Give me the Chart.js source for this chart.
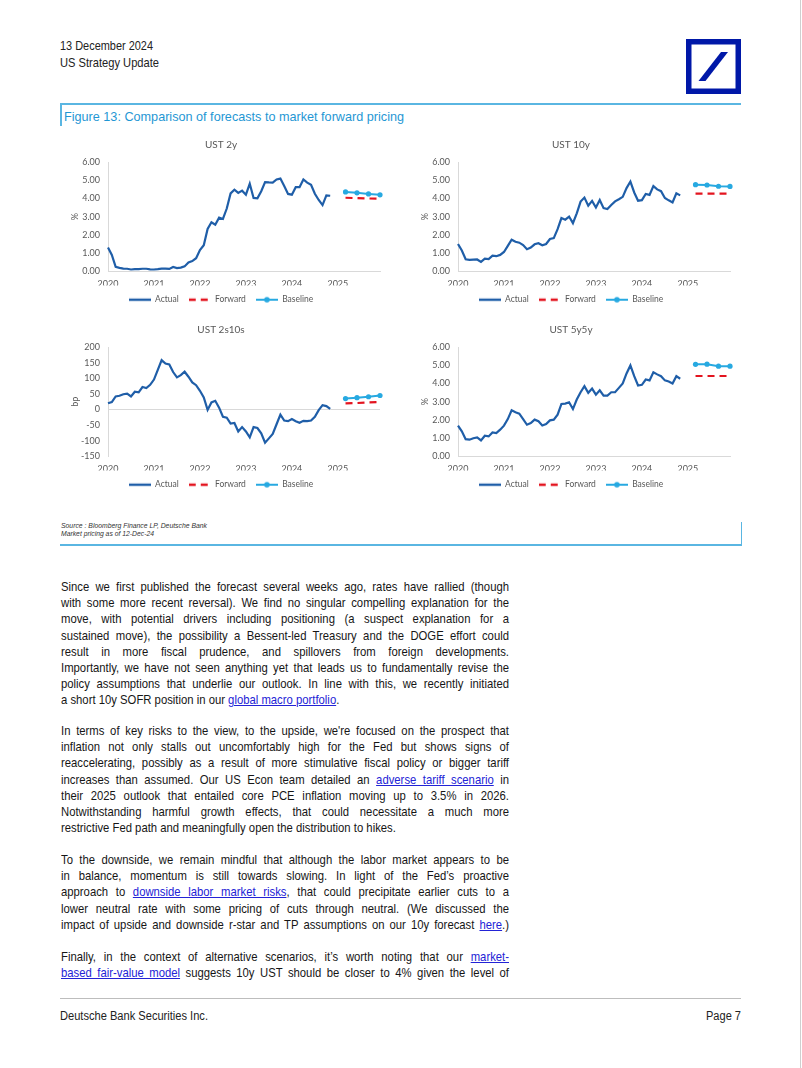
<!DOCTYPE html>
<html>
<head>
<meta charset="utf-8">
<script src="https://cdn.jsdelivr.net/npm/chart.js@4.4.1/dist/chart.umd.min.js"></script>
<style>
  body { margin: 0; background: #fff; }
  #page { position: relative; width: 802px; height: 1068px; overflow: hidden; background: #fff; }
  .abs { position: absolute; }
  .fit { display: inline-block; white-space: nowrap; font-family: 'Liberation Sans', Arial, sans-serif; transform-origin: 0 50%; }
  .hdr { left: 60px; font-size: 13px; color: #222; line-height: 16px; }
  .blue { background: #5ab6e2; }
  #figTitle { left: 64px; top: 109px; font-size: 13.5px; line-height: 16px; color: #1f97d4; }
  .src { left: 61px; font-size: 7.8px; line-height: 8px; color: #333; font-style: italic; }
  canvas { position: absolute; }
  .para { position: absolute; left: 61px; width: 527px; transform: scaleX(0.85); transform-origin: 0 0;
          font-family: 'Liberation Sans', Arial, sans-serif; font-size: 13.3px; color: #161616; }
  .ln { height: 16.2px; line-height: 16.2px; white-space: nowrap; }
  .para a { color: #2323d6; text-decoration: underline; }
  .foot { top: 1008px; font-size: 12.5px; color: #222; line-height: 16px; }
</style>
</head>
<body>
<div id="page">
  <div class="abs" style="left:800px;top:0;width:1px;height:1068px;background:#cfcfcf"></div>

  <div class="abs hdr fit" data-w="93" style="top:38px">13 December 2024</div>
  <div class="abs hdr fit" data-w="99" style="top:55px">US Strategy Update</div>

  <svg class="abs" style="left:686px;top:39px" width="55" height="55" viewBox="0 0 55 55">
    <rect x="0" y="0" width="55" height="55" fill="#0018a8"/>
    <rect x="5.5" y="5.5" width="44" height="44" fill="#fff"/>
    <polygon points="12.5,42 19.5,42 42,13 35,13" fill="#0018a8"/>
  </svg>

  <div class="abs blue" style="left:60px;top:103px;width:681px;height:1.5px"></div>
  <div class="abs blue" style="left:60px;top:103px;width:1.5px;height:23px"></div>
  <div id="figTitle" class="abs fit" data-w="340">Figure 13: Comparison of forecasts to market forward pricing</div>

  <canvas id="c2y" width="328" height="179" style="left:62px;top:135px"></canvas>
  <canvas id="c10y" width="328" height="179" style="left:412px;top:135px"></canvas>
  <canvas id="c2s10s" width="328" height="179" style="left:62px;top:320px"></canvas>
  <canvas id="c5y5y" width="328" height="179" style="left:412px;top:320px"></canvas>

  <div class="abs src fit" data-w="146" style="top:522px">Source : Bloomberg Finance LP, Deutsche Bank</div>
  <div class="abs src fit" data-w="93" style="top:530px">Market pricing as of 12-Dec-24</div>
  <div class="abs blue" style="left:60px;top:544px;width:682px;height:1.5px"></div>
  <div class="abs blue" style="left:740.5px;top:522px;width:1.5px;height:23px"></div>

  <div class="para" style="top:579px">
    <div class="ln">Since we first published the forecast several weeks ago, rates have rallied (though</div>
    <div class="ln">with some more recent reversal). We find no singular compelling explanation for the</div>
    <div class="ln">move, with potential drivers including positioning (a suspect explanation for a</div>
    <div class="ln">sustained move), the possibility a Bessent-led Treasury and the DOGE effort could</div>
    <div class="ln">result in more fiscal prudence, and spillovers from foreign developments.</div>
    <div class="ln">Importantly, we have not seen anything yet that leads us to fundamentally revise the</div>
    <div class="ln">policy assumptions that underlie our outlook. In line with this, we recently initiated</div>
    <div class="ln last">a short 10y SOFR position in our <a>global macro portfolio</a>.</div>
  </div>

  <div class="para" style="top:723px">
    <div class="ln">In terms of key risks to the view, to the upside, we're focused on the prospect that</div>
    <div class="ln">inflation not only stalls out uncomfortably high for the Fed but shows signs of</div>
    <div class="ln">reaccelerating, possibly as a result of more stimulative fiscal policy or bigger tariff</div>
    <div class="ln">increases than assumed. Our US Econ team detailed an <a>adverse tariff scenario</a> in</div>
    <div class="ln">their 2025 outlook that entailed core PCE inflation moving up to 3.5% in 2026.</div>
    <div class="ln">Notwithstanding harmful growth effects, that could necessitate a much more</div>
    <div class="ln last">restrictive Fed path and meaningfully open the distribution to hikes.</div>
  </div>

  <div class="para" style="top:852px">
    <div class="ln">To the downside, we remain mindful that although the labor market appears to be</div>
    <div class="ln">in balance, momentum is still towards slowing. In light of the Fed’s proactive</div>
    <div class="ln">approach to <a>downside labor market risks</a>, that could precipitate earlier cuts to a</div>
    <div class="ln">lower neutral rate with some pricing of cuts through neutral. (We discussed the</div>
    <div class="ln">impact of upside and downside r-star and TP assumptions on our 10y forecast <a>here</a>.)</div>
  </div>

  <div class="para" style="top:949px">
    <div class="ln">Finally, in the context of alternative scenarios, it’s worth noting that our <a>market-</a></div>
    <div class="ln"><a>based fair-value model</a> suggests 10y UST should be closer to 4% given the level of</div>
  </div>

  <div class="abs" style="left:60px;top:998px;width:681px;height:1px;background:#bdbdbd"></div>
  <div class="abs foot fit" data-w="148" style="left:60px">Deutsche Bank Securities Inc.</div>
  <div class="abs foot fit" data-w="35" data-right="741" style="left:706px">Page 7</div>
</div>

<script>
// monthly category axis, Jan 2020 .. Dec 2025
const years = ['2020', '2021', '2022', '2023', '2024', '2025'];
const monthNums = ['01','02','03','04','05','06','07','08','09','10','11','12'];
const months = [];
years.forEach(y => monthNums.forEach(m => months.push(y + '-' + m)));

// forecast points (quarter ends)
const forecastDates = ['2025-03', '2025-06', '2025-09', '2025-12'];

// actuals, month end, Jan 2020 .. Nov 2024
const ust2yActual = [
  1.31, 0.91, 0.25, 0.20, 0.16, 0.15, 0.11, 0.13, 0.13, 0.15, 0.15, 0.12,
  0.11, 0.13, 0.16, 0.16, 0.14, 0.25, 0.19, 0.21, 0.28, 0.50, 0.57, 0.73,
  1.18, 1.44, 2.33, 2.70, 2.56, 2.95, 2.88, 3.45, 4.28, 4.48, 4.31, 4.43,
  4.21, 4.81, 4.03, 4.01, 4.40, 4.90, 4.88, 4.87, 5.04, 5.09, 4.68, 4.25,
  4.21, 4.62, 4.62, 5.04, 4.87, 4.75, 4.26, 3.92, 3.64, 4.17, 4.15
];
const ust10yActual = [
  1.51, 1.15, 0.67, 0.64, 0.65, 0.66, 0.53, 0.70, 0.68, 0.87, 0.84, 0.91,
  1.07, 1.40, 1.74, 1.63, 1.58, 1.45, 1.22, 1.31, 1.49, 1.55, 1.44, 1.51,
  1.78, 1.83, 2.32, 2.93, 2.84, 3.01, 2.65, 3.19, 3.83, 4.05, 3.61, 3.87,
  3.51, 3.92, 3.47, 3.42, 3.64, 3.84, 3.96, 4.09, 4.57, 4.93, 4.33, 3.88,
  3.91, 4.25, 4.20, 4.68, 4.50, 4.40, 4.03, 3.90, 3.78, 4.28, 4.17
];
const ust2s10sActual = [
  20, 24, 42, 44, 49, 51, 42, 57, 55, 72, 69, 79,
  96, 127, 158, 147, 144, 120, 103, 110, 121, 105, 87, 78,
  60, 39, -1, 23, 28, 6, -23, -26, -45, -43, -70, -56,
  -70, -89, -56, -59, -76, -106, -92, -78, -47, -16, -35, -37,
  -30, -37, -42, -36, -37, -35, -23, -2, 14, 11, 2
];
const ust5y5yActual = [
  1.69, 1.38, 0.95, 0.92, 1.00, 1.05, 0.88, 1.14, 1.10, 1.32, 1.28, 1.47,
  1.69, 2.05, 2.53, 2.42, 2.35, 2.05, 1.74, 1.83, 2.02, 1.93, 1.70, 1.78,
  1.98, 2.02, 2.29, 2.88, 2.90, 2.97, 2.60, 3.12, 3.52, 3.85, 3.49, 3.72,
  3.39, 3.63, 3.34, 3.34, 3.52, 3.52, 3.76, 4.00, 4.55, 4.99, 4.40, 3.89,
  3.93, 4.22, 4.17, 4.62, 4.50, 4.40, 4.17, 4.11, 4.00, 4.40, 4.26
];

const ust2yForward = [4.04, 4.02, 4.00, 3.99];
const ust2yBaseline = [4.36, 4.31, 4.25, 4.20];
const ust10yForward = [4.27, 4.27, 4.27, 4.27];
const ust10yBaseline = [4.76, 4.74, 4.67, 4.66];
const ust2s10sForward = [20, 21, 23, 24];
const ust2s10sBaseline = [35, 38, 41, 45];
const ust5y5yForward = [4.41, 4.41, 4.41, 4.41];
const ust5y5yBaseline = [5.05, 5.06, 4.95, 4.95];

const ACTUAL = '#1f5ea8';
const FORWARD = '#e3141f';
const BASELINE = '#27a9e1';
const TXT = '#595959';
const AXIS = '#d9d9d9';
const FONT = 'Lato, "Liberation Sans", sans-serif';

function fullActual(vals) {
  return months.map((m, i) => (i < vals.length ? vals[i] : null));
}
function atForecastDates(vals) {
  return months.map(m => {
    const k = forecastDates.indexOf(m);
    return k >= 0 ? vals[k] : null;
  });
}

// small legend swatches
function swatch(kind) {
  const c = document.createElement('canvas');
  c.width = 22; c.height = 8;
  const g = c.getContext('2d');
  g.lineWidth = 2.4;
  if (kind === 'actual') {
    g.strokeStyle = ACTUAL;
    g.beginPath(); g.moveTo(0, 4); g.lineTo(22, 4); g.stroke();
  } else if (kind === 'forward') {
    g.strokeStyle = FORWARD;
    g.setLineDash([7, 5]);
    g.beginPath(); g.moveTo(0, 4); g.lineTo(22, 4); g.stroke();
  } else {
    g.strokeStyle = BASELINE; g.fillStyle = BASELINE;
    g.lineWidth = 2;
    g.beginPath(); g.moveTo(0, 4); g.lineTo(22, 4); g.stroke();
    g.beginPath(); g.arc(11, 4, 2.8, 0, Math.PI * 2); g.fill();
  }
  return c;
}
const icons = [swatch('actual'), swatch('forward'), swatch('baseline')];

function makeChart(id, title, yTitle, actual, forward, baseline, y) {
  new Chart(document.getElementById(id), {
    type: 'line',
    data: {
      labels: months,
      datasets: [
        { label: 'Actual', data: fullActual(actual), borderColor: ACTUAL, borderWidth: 2.2,
          pointRadius: 0, tension: 0 },
        { label: 'Forward', data: atForecastDates(forward), borderColor: FORWARD, borderWidth: 2.2,
          borderDash: [7, 5], pointRadius: 0, spanGaps: true },
        { label: 'Baseline', data: atForecastDates(baseline), borderColor: BASELINE, backgroundColor: BASELINE,
          borderWidth: 2, pointRadius: 2.6, pointBorderWidth: 0, spanGaps: true }
      ]
    },
    options: {
      responsive: false,
      animation: false,
      devicePixelRatio: 1,
      layout: { padding: { left: 0, right: 10, top: 0, bottom: 0 } },
      plugins: {
        title: { display: true, text: title, color: TXT, font: { family: FONT, size: 10, weight: 'normal' },
                 padding: { top: 4, bottom: 11 } },
        legend: {
          position: 'bottom',
          labels: {
            usePointStyle: true, pointStyleWidth: 22, padding: 10, color: TXT,
            font: { family: FONT, size: 8.5 },
            generateLabels: chart => chart.data.datasets.map((ds, i) => ({
              text: ds.label, pointStyle: icons[i], datasetIndex: i, fontColor: TXT,
              fillStyle: 'rgba(0,0,0,0)', strokeStyle: 'rgba(0,0,0,0)', lineWidth: 0, hidden: false
            }))
          }
        },
        tooltip: { enabled: false }
      },
      scales: {
        x: {
          grid: { display: false, drawTicks: false },
          border: { display: !y.zeroLine, color: AXIS },
          ticks: {
            autoSkip: false, maxRotation: 0, padding: 7, color: TXT, font: { family: FONT, size: 9 },
            callback: function (v) {
              const l = this.getLabelForValue(v);
              return l.endsWith('-01') ? l.slice(0, 4) : null;
            }
          },
          afterFit: a => { a.height = 14; }
        },
        y: {
          min: y.min, max: y.max,
          ticks: { stepSize: y.step, padding: 8, color: TXT, font: { family: FONT, size: 9 },
                   callback: v => v.toFixed(y.dec) },
          grid: { drawTicks: false, lineWidth: 1,
                  color: c => (y.zeroLine && c.tick && c.tick.value === 0 ? AXIS : 'rgba(0,0,0,0)') },
          border: { color: AXIS },
          title: { display: true, text: yTitle, color: TXT, font: { family: FONT, size: 9 },
                   padding: { top: 8, bottom: 0 } },
          afterFit: a => { a.width = 46; }
        }
      }
    }
  });
}

makeChart('c2y', 'UST 2y', '%', ust2yActual, ust2yForward, ust2yBaseline,
  { min: 0, max: 6, step: 1, dec: 2 });
makeChart('c10y', 'UST 10y', '%', ust10yActual, ust10yForward, ust10yBaseline,
  { min: 0, max: 6, step: 1, dec: 2 });
makeChart('c2s10s', 'UST 2s10s', 'bp', ust2s10sActual, ust2s10sForward, ust2s10sBaseline,
  { min: -150, max: 200, step: 50, dec: 0, zeroLine: true });
makeChart('c5y5y', 'UST 5y5y', '%', ust5y5yActual, ust5y5yForward, ust5y5yBaseline,
  { min: 0, max: 6, step: 1, dec: 2 });

// condensed look: squeeze single-line texts to their measured widths
document.querySelectorAll('.fit').forEach(el => {
  const w = el.getBoundingClientRect().width;
  const target = parseFloat(el.dataset.w);
  el.style.transform = 'scaleX(' + (target / w) + ')';
  if (el.dataset.right) el.style.left = (parseFloat(el.dataset.right) - target) + 'px';
});

// justify each text line to the column width
const SCALE = 0.85;
const COL = 448 / SCALE;
document.querySelectorAll('.ln').forEach(el => {
  if (el.classList.contains('last')) return;
  const r = document.createRange();
  r.selectNodeContents(el);
  const w = r.getBoundingClientRect().width / SCALE;
  const spaces = (el.textContent.match(/ /g) || []).length;
  if (spaces) el.style.wordSpacing = ((COL - w) / spaces) + 'px';
});
</script>
</body>
</html>
